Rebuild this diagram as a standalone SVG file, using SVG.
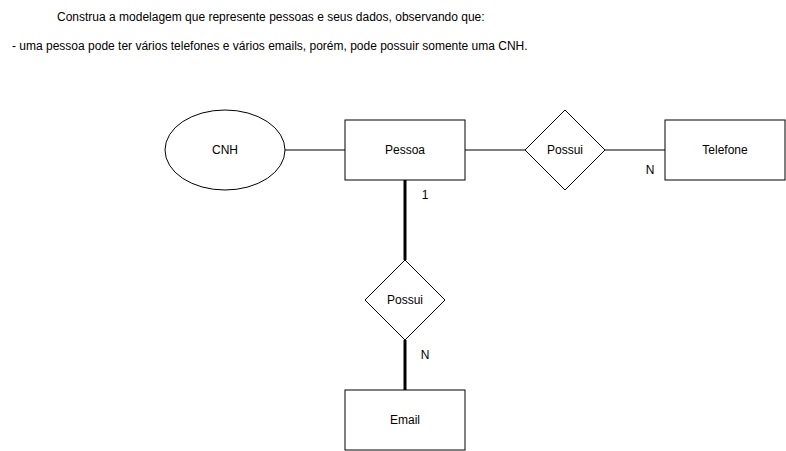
<svg xmlns="http://www.w3.org/2000/svg" width="786" height="451" viewBox="0 0 786 451">
<style>
text{font-family:"Liberation Sans",Arial,sans-serif;font-size:12px;fill:#000}
.s{fill:#fff;stroke:#000;stroke-width:1}
.c{stroke:#000;stroke-width:1;fill:none}
.t{stroke:#000;stroke-width:3;fill:none}
.m{text-anchor:middle;dominant-baseline:central}
</style>
<rect width="786" height="451" fill="#fff"/>
<text x="57" y="21">Construa a modelagem que represente pessoas e seus dados, observando que:</text>
<text x="12" y="50">- uma pessoa pode ter vários telefones e vários emails, porém, pode possuir somente uma CNH.</text>
<g id="connectors">
<line class="c" x1="285" y1="150" x2="345" y2="150"/>
<line class="c" x1="465" y1="150" x2="525" y2="150"/>
<line class="c" x1="605" y1="150" x2="665" y2="150"/>
<line class="t" x1="405" y1="180" x2="405" y2="260"/>
<line class="t" x1="405" y1="340" x2="405" y2="390"/>
<text x="425" y="195" class="m">1</text>
<text x="650" y="170" class="m">N</text>
<text x="425" y="355" class="m">N</text>
</g>
<g id="cnh"><ellipse class="s" cx="225" cy="150" rx="60" ry="40"/><text x="225" y="150" class="m">CNH</text></g>
<g id="pessoa"><rect class="s" x="345" y="120" width="120" height="60"/><text x="405" y="150" class="m">Pessoa</text></g>
<g id="possui1"><polygon class="s" points="565,110 605,150 565,190 525,150"/><text x="565" y="150" class="m">Possui</text></g>
<g id="telefone"><rect class="s" x="665" y="120" width="120" height="60"/><text x="725" y="150" class="m">Telefone</text></g>
<g id="possui2"><polygon class="s" points="405,260 445,300 405,340 365,300"/><text x="405" y="300" class="m">Possui</text></g>
<g id="email"><rect class="s" x="345" y="390" width="120" height="60"/><text x="405" y="420" class="m">Email</text></g>
</svg>
